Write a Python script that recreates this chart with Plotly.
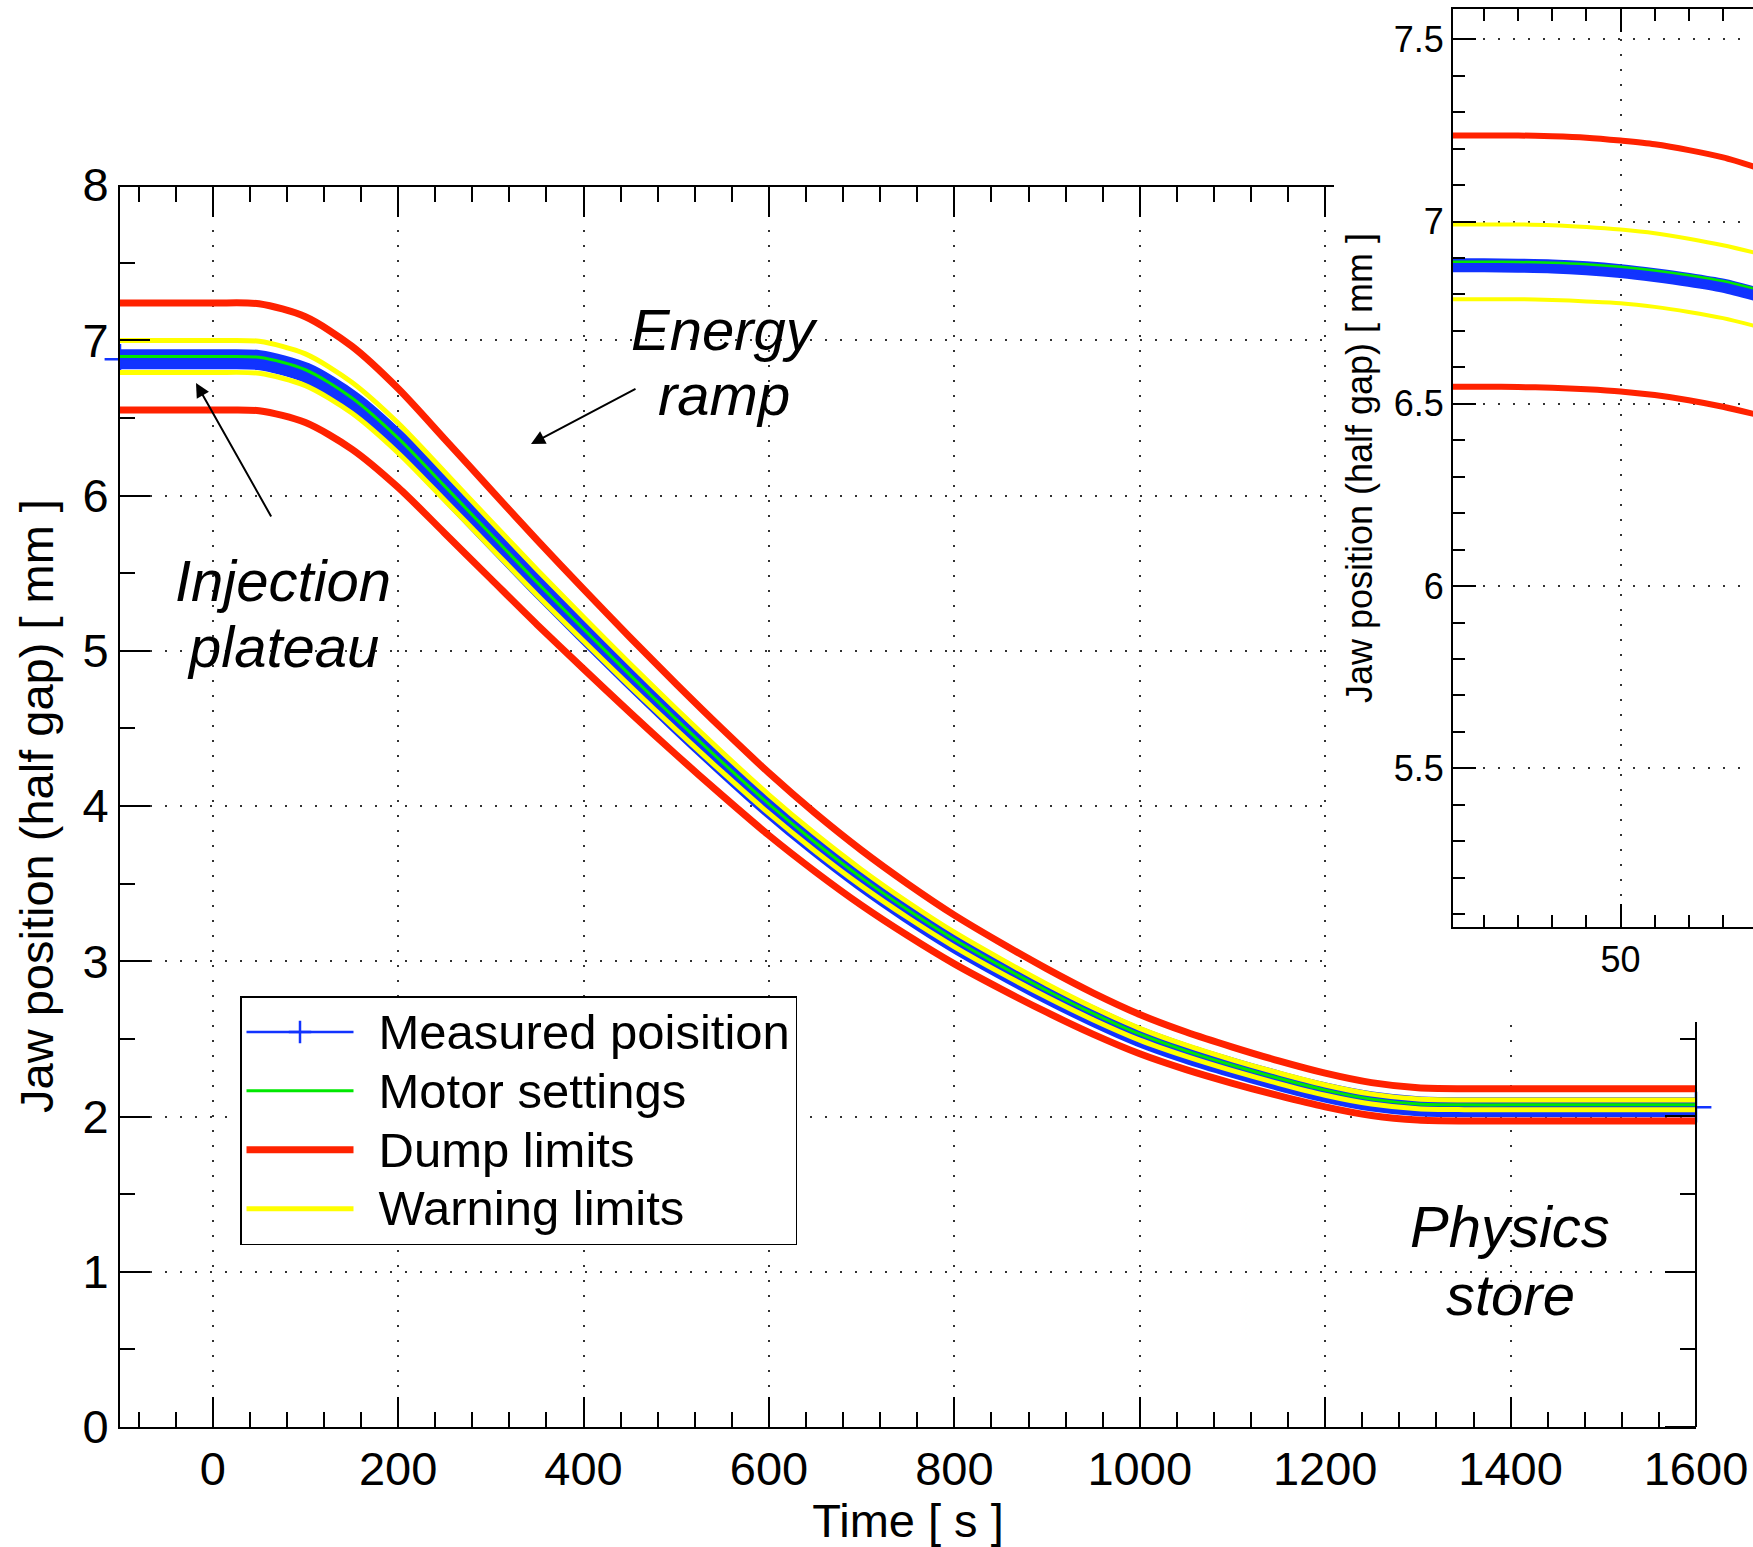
import plotly.graph_objects as go

W, H = 1753, 1547
FONT = "Liberation Sans"

# ---------------------------------------------------------------- main ramp
time_s = [-100, 0, 50, 100, 150, 200, 250, 300, 350, 400, 450, 500, 550, 600, 650, 700,
          750, 800, 850, 900, 950, 1000, 1050, 1100, 1150, 1200, 1250, 1300, 1350, 1400,
          1500, 1600]

motor = [6.895, 6.895, 6.890, 6.810, 6.630, 6.370, 6.062, 5.750, 5.440, 5.140, 4.845, 4.558,
         4.280, 4.012, 3.765, 3.537, 3.330, 3.140, 2.970, 2.810, 2.662, 2.530, 2.423, 2.330,
         2.246, 2.170, 2.112, 2.081, 2.075, 2.075, 2.075, 2.075]
measured = [6.877, 6.877, 6.872, 6.792, 6.612, 6.352, 6.044, 5.732, 5.422, 5.122, 4.827, 4.540,
            4.262, 3.994, 3.747, 3.519, 3.312, 3.122, 2.952, 2.792, 2.645, 2.513, 2.406, 2.314,
            2.230, 2.155, 2.097, 2.066, 2.060, 2.060, 2.060, 2.060]
dump_hi = [7.240, 7.240, 7.235, 7.151, 6.962, 6.689, 6.365, 6.038, 5.712, 5.397, 5.087, 4.786,
           4.494, 4.213, 3.953, 3.714, 3.497, 3.297, 3.119, 2.951, 2.795, 2.657, 2.544, 2.447,
           2.358, 2.279, 2.218, 2.185, 2.179, 2.179, 2.179, 2.179]
dump_lo = [6.550, 6.550, 6.546, 6.470, 6.299, 6.052, 5.759, 5.463, 5.168, 4.883, 4.603, 4.330,
           4.066, 3.811, 3.577, 3.360, 3.164, 2.983, 2.822, 2.670, 2.529, 2.404, 2.302, 2.214,
           2.134, 2.062, 2.006, 1.977, 1.971, 1.971, 1.971, 1.971]
warn_hi = [6.998, 6.998, 6.993, 6.912, 6.729, 6.466, 6.153, 5.836, 5.522, 5.217, 4.918, 4.626,
           4.344, 4.072, 3.821, 3.590, 3.380, 3.187, 3.015, 2.852, 2.702, 2.568, 2.459, 2.365,
           2.280, 2.203, 2.144, 2.112, 2.106, 2.106, 2.106, 2.106]
warn_lo = [6.792, 6.792, 6.787, 6.708, 6.531, 6.274, 5.971, 5.664, 5.358, 5.063, 4.772, 4.490,
           4.216, 3.952, 3.709, 3.484, 3.280, 3.093, 2.925, 2.768, 2.622, 2.492, 2.387, 2.295,
           2.212, 2.137, 2.080, 2.050, 2.044, 2.044, 2.044, 2.044]

# ---------------------------------------------------------------- inset (start of ramp)
zoom_t = [40, 42, 44, 46, 48, 50, 52, 54, 56, 58]
zoom_measured = [6.880, 6.880, 6.879, 6.877, 6.872, 6.864, 6.853, 6.840, 6.824, 6.800]
zoom_motor = [6.890, 6.890, 6.889, 6.887, 6.883, 6.876, 6.866, 6.853, 6.837, 6.814]
zoom_dump_hi = [7.236, 7.236, 7.236, 7.234, 7.230, 7.222, 7.212, 7.196, 7.176, 7.148]
zoom_dump_lo = [6.547, 6.547, 6.546, 6.544, 6.540, 6.534, 6.524, 6.510, 6.492, 6.470]
zoom_warn_hi = [6.992, 6.992, 6.992, 6.990, 6.985, 6.978, 6.968, 6.953, 6.935, 6.913]
zoom_warn_lo = [6.787, 6.787, 6.787, 6.785, 6.781, 6.776, 6.766, 6.752, 6.735, 6.712]

BLUE, GREEN, RED, YELLOW = "#1133ff", "#00e800", "#ff2200", "#ffff00"
CLEAR = "rgba(0,0,0,0)"

legend_names = ["Measured poisition", "Motor settings", "Dump limits", "Warning limits"]


def px(x):
    return x / W


def py(y):
    return 1 - y / H


def end_crosses(n):
    # '+' markers are only shown at both ends of the measured series
    return [BLUE if i in (0, n - 1) else CLEAR for i in range(n)]


def legend_text(name):
    # larger text than the legend's row spacing, with a gap after the sample line
    return ('<span style="font-size:72px">\u00a0</span>'
            '<span style="font-size:49px">' + name + '</span>')


fig = go.Figure()


def curve(x, y, color, width, xa="x", ya="y", **kw):
    fig.add_trace(go.Scatter(
        x=x, y=y, mode=kw.pop("mode", "lines"), xaxis=xa, yaxis=ya,
        line=dict(color=color, width=width, shape="spline", smoothing=0.8),
        hoverinfo="skip", **kw))


# main plot
curve(time_s, measured, BLUE, 20, showlegend=False)
curve(time_s, measured, BLUE, 2.5, mode="lines+markers", name=legend_text(legend_names[0]),
      marker=dict(symbol="cross-thin-open", size=22, color=end_crosses(len(time_s)),
                  line=dict(width=2.5)),
      cliponaxis=False)
curve(time_s, motor, GREEN, 3, name=legend_text(legend_names[1]))
curve(time_s, dump_hi, RED, 7, name=legend_text(legend_names[2]), legendgroup="dump")
curve(time_s, dump_lo, RED, 7, showlegend=False, legendgroup="dump")
curve(time_s, warn_hi, YELLOW, 5, name=legend_text(legend_names[3]), legendgroup="warn")
curve(time_s, warn_lo, YELLOW, 5, showlegend=False, legendgroup="warn")

# inset
curve(zoom_t, zoom_measured, BLUE, 14, xa="x2", ya="y2", showlegend=False)
curve(zoom_t, zoom_measured, BLUE, 2, xa="x2", ya="y2", showlegend=False,
      mode="lines+markers",
      marker=dict(symbol="cross-thin-open", size=16, color=end_crosses(len(zoom_t)),
                  line=dict(width=2)),
      cliponaxis=False)
curve(zoom_t, zoom_motor, GREEN, 2.5, xa="x2", ya="y2", showlegend=False)
curve(zoom_t, zoom_dump_hi, RED, 6, xa="x2", ya="y2", showlegend=False)
curve(zoom_t, zoom_dump_lo, RED, 6, xa="x2", ya="y2", showlegend=False)
curve(zoom_t, zoom_warn_hi, YELLOW, 4, xa="x2", ya="y2", showlegend=False)
curve(zoom_t, zoom_warn_lo, YELLOW, 4, xa="x2", ya="y2", showlegend=False)

# empty traces so the partial frame axes (top and right of the main plot) get drawn
fig.add_trace(go.Scatter(x=[None], y=[None], xaxis="x3", yaxis="y4", showlegend=False,
                         hoverinfo="skip"))
fig.add_trace(go.Scatter(x=[None], y=[None], xaxis="x4", yaxis="y3", showlegend=False,
                         hoverinfo="skip"))

# ---------------------------------------------------------------- axes
MX0, MX1 = 120, 1696          # main plot area, pixels
MY0, MY1 = 185, 1427
T0, T1 = -100, 1600
V0, V1 = 0, 8
T_CUT, V_CUT = 1210, 2.61     # corner hidden behind the inset


def tx(t):
    return MX0 + (t - T0) / (T1 - T0) * (MX1 - MX0)


def vy(v):
    return MY1 - (v - V0) / (V1 - V0) * (MY1 - MY0)


tick_font = dict(family=FONT, size=47, color="black")
grid = dict(showgrid=True, gridcolor="#333333", gridwidth=1.5, griddash="2px,13px")
common = dict(tickcolor="black", tickwidth=1.5, showline=True,
              linecolor="black", linewidth=2, zeroline=False, automargin=False,
              layer="above traces")


def minor(step, length, ticks="inside"):
    return dict(dtick=step, ticklen=length, tickwidth=1.5, tickcolor="black",
                ticks=ticks, showgrid=False)


fig.update_layout(
    xaxis=dict(domain=[px(MX0), px(MX1)], range=[T0, T1], anchor="y",
               ticks="inside", tick0=0, dtick=200, ticklen=30, minor=minor(40, 15),
               tickfont=tick_font,
               title=dict(text="Time [ s ]", font=tick_font, standoff=0),
               **grid, **common),
    yaxis=dict(domain=[py(MY1), py(MY0)], range=[V0, V1], anchor="x",
               ticks="inside", tick0=0, dtick=1, ticklen=30, minor=minor(0.5, 15),
               tickfont=tick_font,
               title=dict(text="Jaw position (half gap) [ mm ]", font=tick_font, standoff=14),
               **grid, **common),
    # top frame of the main plot, stopping at the inset (hung under a hidden strip axis)
    xaxis3=dict(domain=[px(MX0), px(tx(T_CUT))], range=[T0, T_CUT], anchor="y4",
                side="bottom", ticks="outside", tick0=0, dtick=200, ticklen=30,
                showticklabels=False, minor=minor(40, 15, "outside"), showgrid=False,
                **common),
    yaxis4=dict(domain=[py(MY0) + 0.0003, py(MY0) + 0.002], range=[0, 1], anchor="x3",
                visible=False),
    # right frame of the main plot, below the inset
    yaxis3=dict(domain=[py(MY1), py(vy(V_CUT))], range=[V0, V_CUT], anchor="x4",
                side="left", ticks="outside", tick0=0, dtick=1, ticklen=30,
                showticklabels=False, minor=minor(0.5, 15, "outside"), showgrid=False,
                **common),
    xaxis4=dict(domain=[px(MX1) + 0.0003, px(MX1) + 0.002], range=[0, 1], anchor="y3",
                visible=False),
)

inset_font = dict(family=FONT, size=36, color="black")
IX0, IY0, IY1 = 1453, 9, 927
fig.update_layout(
    xaxis2=dict(domain=[px(IX0), 1.0], range=[40.18, 57.76], anchor="y2",
                ticks="inside", tick0=0, dtick=10, ticklen=23, mirror="ticks",
                minor=minor(2, 12), tickfont=inset_font, **grid, **common),
    yaxis2=dict(domain=[py(IY1), py(IY0)], range=[5.065, 7.583], anchor="x2",
                ticks="inside", tick0=0, dtick=0.5, ticklen=23, minor=minor(0.1, 12),
                tickfont=inset_font,
                title=dict(text="Jaw position (half gap) [ mm ]", font=inset_font, standoff=10),
                **grid, **common),
)

# hide the main grid behind the inset corner
fig.add_shape(type="rect", xref="x", yref="y", x0=T_CUT, x1=T1, y0=V_CUT, y1=V1,
              fillcolor="white", line=dict(width=0), layer="between")

# ---------------------------------------------------------------- labels
label_font = dict(family=FONT, size=58, color="black", style="italic")


def label(text, x, y):
    fig.add_annotation(text=text, xref="paper", yref="paper", x=px(x), y=py(y),
                       xanchor="center", yanchor="middle", showarrow=False, font=label_font)


def arrow(x_tip, y_tip, x_tail, y_tail):
    fig.add_annotation(text="", xref="paper", yref="paper", x=px(x_tip), y=py(y_tip),
                       ax=x_tail - x_tip, ay=y_tail - y_tip, axref="pixel", ayref="pixel",
                       showarrow=True, arrowhead=2, arrowsize=1.4, arrowwidth=2,
                       arrowcolor="black")


label("Energy", 724, 329)
label("ramp", 724, 395)
arrow(531, 444, 637, 388)
label("Injection", 283, 580)
label("plateau", 283, 646)
arrow(196, 383, 272, 518)
label("Physics", 1510, 1226)
label("store", 1510, 1294)

fig.update_layout(
    width=W, height=H, margin=dict(l=0, r=0, t=0, b=0, autoexpand=False),
    paper_bgcolor="white", plot_bgcolor="white",
    font=dict(family=FONT, color="black"),
    showlegend=True,
    legend=dict(x=px(240), y=py(996), xanchor="left", yanchor="top",
                bgcolor="white", bordercolor="black", borderwidth=1.5,
                font=dict(family=FONT, size=43, color="black"),
                itemwidth=107, tracegroupgap=0),
)

fig.write_html("out.html")
